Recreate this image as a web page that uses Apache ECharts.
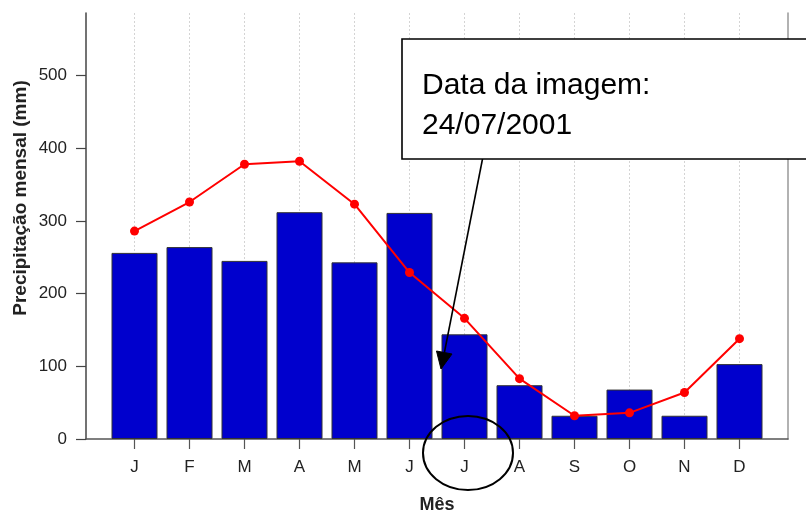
<!DOCTYPE html>
<html>
<head>
<meta charset="utf-8">
<script src="https://cdn.jsdelivr.net/npm/echarts@6/dist/echarts.min.js"></script>
<style>html,body{margin:0;padding:0;background:#fff;}#c{width:806px;height:511px;}</style>
</head>
<body>
<div id="c"></div>
<script>
const months = ['J','F','M','A','M','J','J','A','S','O','N','D'];
const barValues = [256, 264, 245, 312, 243, 311, 144, 74, 32, 68, 32, 103];
const lineValues = [286, 326, 378, 382, 323, 229, 166, 83, 32, 36, 64, 138];
const yTicks = [0, 100, 200, 300, 400, 500];
const yMax = 586;
const yTitle = 'Precipitação mensal (mm)';
const xTitle = 'Mês';
const noteLines = ['Data da imagem:', '24/07/2001'];

const FONT = '"Liberation Sans", Arial, Helvetica, sans-serif';
const chart = echarts.init(document.getElementById('c'), null, {renderer: 'canvas'});

const gridBase = {top: 13, bottom: 72, containLabel: false, outerBoundsMode: 'none'};
const option = {
  animation: false,
  backgroundColor: '#fff',
  textStyle: {fontFamily: FONT},
  grid: [
    Object.assign({left: 86, right: 18}, gridBase),
    Object.assign({left: 107, right: 39}, gridBase),
    Object.assign({left: 134.5, right: 66.5}, gridBase)
  ],
  xAxis: [
    {gridIndex: 0, type: 'value', min: 0, max: 1,
     axisLine: {show: true, onZero: false, lineStyle: {color: '#555', width: 1.5}},
     axisTick: {show: false}, axisLabel: {show: false}, splitLine: {show: false}},
    {gridIndex: 1, type: 'category', data: months, boundaryGap: true,
     axisLine: {show: false},
     axisTick: {show: true, alignWithLabel: true, length: 10, lineStyle: {color: '#555', width: 1.2}},
     axisLabel: {show: true, margin: 20, fontSize: 17, color: '#222', fontFamily: FONT},
     splitLine: {show: false},
     name: xTitle, nameLocation: 'middle', nameGap: 57,
     nameTextStyle: {fontSize: 18, fontWeight: 'bold', color: '#222', fontFamily: FONT}},
    {gridIndex: 2, type: 'value', min: 0, max: 11, interval: 1,
     axisLine: {show: false}, axisTick: {show: false}, axisLabel: {show: false},
     splitLine: {show: true, lineStyle: {color: '#d4d4d4', width: 1, type: [2, 2]}}}
  ],
  yAxis: [
    {gridIndex: 0, type: 'value', min: 0, max: yMax,
     axisLine: {show: true, onZero: false, lineStyle: {color: '#444', width: 1.5}},
     axisTick: {show: true, length: 10, customValues: yTicks, lineStyle: {color: '#444', width: 1.2}},
     axisLabel: {show: true, margin: 19, fontSize: 17, color: '#222', customValues: yTicks, fontFamily: FONT},
     splitLine: {show: false}},
    {gridIndex: 0, type: 'value', position: 'right', min: 0, max: yMax,
     axisLine: {show: true, onZero: false, lineStyle: {color: '#999', width: 1.5}},
     axisTick: {show: false}, axisLabel: {show: false}, splitLine: {show: false}},
    {gridIndex: 1, type: 'value', min: 0, max: yMax, show: false, splitLine: {show: false}},
    {gridIndex: 2, type: 'value', min: 0, max: yMax, show: false, splitLine: {show: false}}
  ],
  series: [
    {type: 'bar', xAxisIndex: 1, yAxisIndex: 2, data: barValues, barWidth: 46,
     itemStyle: {color: '#0000CD', borderColor: '#333', borderWidth: 1}, z: 3},
    {type: 'line', xAxisIndex: 1, yAxisIndex: 2, data: lineValues,
     symbol: 'circle', symbolSize: 9,
     lineStyle: {color: '#ff0000', width: 2}, itemStyle: {color: '#ff0000'}, z: 4}
  ],
  graphic: [
    {type: 'text', x: 21, y: 198, rotation: Math.PI / 2, z: 50,
     style: {text: yTitle, fontSize: 19, fontWeight: 'bold', fontFamily: FONT, fill: '#222', align: 'center', verticalAlign: 'middle'}},
    {type: 'line', z: 60, shape: {x1: 482.7, y1: 158, x2: 444.5, y2: 352},
     style: {stroke: '#000', lineWidth: 1.6}},
    {type: 'polygon', z: 61, shape: {points: [[441, 369], [452, 354], [436.5, 351]]},
     style: {fill: '#000', stroke: '#000', lineWidth: 1}},
    {type: 'ellipse', z: 60, shape: {cx: 468, cy: 453, rx: 45, ry: 37},
     style: {fill: 'none', stroke: '#000', lineWidth: 2}},
    {type: 'rect', z: 70, shape: {x: 402, y: 39, width: 430, height: 120},
     style: {fill: '#fff', stroke: '#000', lineWidth: 1.6}},
    {type: 'text', x: 422, y: 86, z: 71,
     style: {text: noteLines[0], fontSize: 30, fontFamily: FONT, fill: '#000', align: 'left', verticalAlign: 'middle'}},
    {type: 'text', x: 422, y: 126, z: 71,
     style: {text: noteLines[1], fontSize: 30, fontFamily: FONT, fill: '#000', align: 'left', verticalAlign: 'middle'}}
  ]
};
chart.setOption(option);
</script>
</body>
</html>
